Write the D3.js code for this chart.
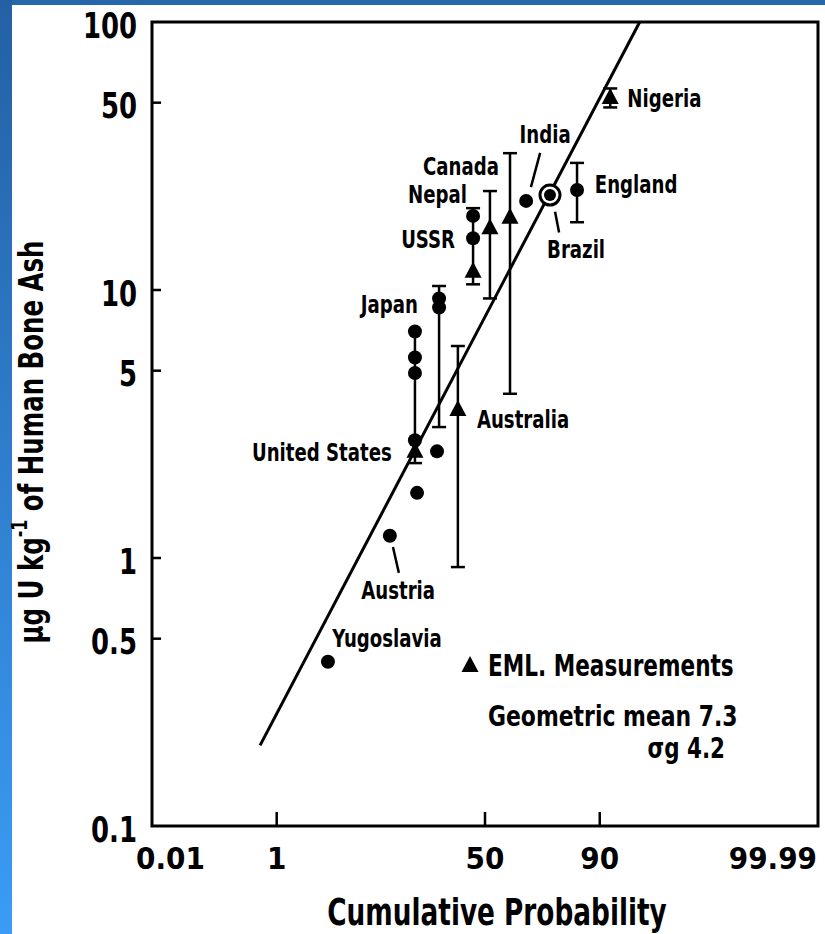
<!DOCTYPE html>
<html><head><meta charset="utf-8">
<script src="https://cdn.jsdelivr.net/npm/d3@7"></script>
<style>
body{margin:0;background:#fff}
svg{display:block}
text{font-family:"Liberation Sans Narrow","DejaVu Sans Condensed","Arial Narrow",sans-serif;fill:#000;font-weight:bold}
</style>
</head><body>
<svg id="chart" width="825" height="934"></svg>
<script>
// ---------- data ----------
const probTicks = [0.01, 1, 50, 90, 99.99];
const probTickLabels = ["0.01", "1", "50", "90", "99.99"];
const valueTicks = [100, 50, 10, 5, 1, 0.5, 0.1];
const valueTickLabels = ["100", "50", "10", "5", "1", "0.5", "0.1"];

// literature values (filled circles)
const literatureDots = [
  {country: "India", p: 67.7, v: 21.5},
  {country: "England", p: 84.8, v: 23.6},
  {country: "USSR", p: 44.7, v: 18.9},
  {country: "USSR", p: 44.7, v: 15.6},
  {country: "Japan", p: 30.4, v: 9.3},
  {country: "Japan", p: 30.4, v: 8.6},
  {country: "United States", p: 21.7, v: 7.0},
  {country: "United States", p: 21.7, v: 5.6},
  {country: "United States", p: 21.7, v: 4.9},
  {country: "United States", p: 21.7, v: 2.75},
  {country: "", p: 29.6, v: 2.5},
  {country: "", p: 22.4, v: 1.75},
  {country: "Austria", p: 14.4, v: 1.21},
  {country: "Yugoslavia", p: 3.97, v: 0.41}
];
const circledDots = [{country: "Brazil", p: 76.6, v: 22.6}];

// EML measurements (triangles)
const emlTriangles = [
  {country: "Nigeria", p: 91.9, v: 52},
  {country: "Canada", p: 61.0, v: 18.6},
  {country: "Nepal", p: 52.2, v: 17.0},
  {country: "USSR", p: 44.7, v: 11.7},
  {country: "United States", p: 21.7, v: 2.49},
  {country: "Australia", p: 38.1, v: 3.57}
];

// ranges (error bars)
const errorBars = [
  {country: "Nigeria", p: 91.9, lo: 48, hi: 56.5, capLo: true, capHi: true},
  {country: "England", p: 84.8, lo: 17.9, hi: 29.8, capLo: true, capHi: true},
  {country: "Canada", p: 61.0, lo: 4.1, hi: 32.4, capLo: true, capHi: true},
  {country: "Nepal", p: 52.2, lo: 9.3, hi: 23.4, capLo: true, capHi: true},
  {country: "USSR", p: 44.7, lo: 10.5, hi: 20.2, capLo: true, capHi: true},
  {country: "Japan", p: 30.4, lo: 3.08, hi: 10.35, capLo: true, capHi: true},
  {country: "United States", p: 21.7, lo: 2.26, hi: 7.0, capLo: true, capHi: false},
  {country: "Australia", p: 38.1, lo: 0.925, hi: 6.18, capLo: true, capHi: true}
];

// fitted log-normal line (geometric mean 7.3, sigma_g 4.2)
const fitLine = [{p: 0.6, v: 0.2}, {p: 95.8, v: 100}];

// country labels, anchored in data coordinates
const countryLabels = [
  {text: "Nigeria", p: 94.4, v: 51.6, anchor: "start"},
  {text: "India", p: 74.9, v: 37.9, anchor: "middle"},
  {text: "Canada", p: 56.2, v: 28.8, anchor: "end"},
  {text: "Nepal", p: 42.0, v: 22.6, anchor: "end"},
  {text: "USSR", p: 36.9, v: 15.4, anchor: "end"},
  {text: "England", p: 89.0, v: 24.7, anchor: "start"},
  {text: "Brazil", p: 75.6, v: 14.1, anchor: "start"},
  {text: "Japan", p: 22.7, v: 8.8, anchor: "end"},
  {text: "United States", p: 14.9, v: 2.47, anchor: "end"},
  {text: "Australia", p: 46.4, v: 3.27, anchor: "start"},
  {text: "Austria", p: 16.6, v: 0.753, anchor: "middle"},
  {text: "Yugoslavia", p: 13.7, v: 0.499, anchor: "middle"}
];
const leaderLines = [
  {country: "India", p1: 69.6, v1: 24.2, p2: 73.1, v2: 32.5},
  {country: "Brazil", p1: 78.3, v1: 19.6, p2: 79.6, v2: 16.4},
  {country: "Austria", p1: 15.2, v1: 1.10, p2: 16.8, v2: 0.88}
];
const legendLines = ["EML. Measurements", "Geometric mean 7.3", "\u03C3g 4.2"];
const xTitle = "Cumulative Probability";

// ---------- helpers ----------
function qnorm(p) { // Acklam inverse normal CDF
  const a = [-3.969683028665376e+01, 2.209460984245205e+02, -2.759285104469687e+02, 1.383577518672690e+02, -3.066479806614716e+01, 2.506628277459239e+00];
  const b = [-5.447609879822406e+01, 1.615858368580409e+02, -1.556989798598866e+02, 6.680131188771972e+01, -1.328068155288572e+01];
  const c = [-7.784894002430293e-03, -3.223964580411365e-01, -2.400758277161838e+00, -2.549732539343734e+00, 4.374664141464968e+00, 2.938163982698783e+00];
  const d = [7.784695709041462e-03, 3.224671290700398e-01, 2.445134137142996e+00, 3.754408661907416e+00];
  const pl = 0.02425, ph = 1 - pl;
  let q, r;
  if (p < pl) { q = Math.sqrt(-2 * Math.log(p));
    return (((((c[0]*q+c[1])*q+c[2])*q+c[3])*q+c[4])*q+c[5]) / ((((d[0]*q+d[1])*q+d[2])*q+d[3])*q+1); }
  if (p <= ph) { q = p - 0.5; r = q*q;
    return (((((a[0]*r+a[1])*r+a[2])*r+a[3])*r+a[4])*r+a[5])*q / (((((b[0]*r+b[1])*r+b[2])*r+b[3])*r+b[4])*r+1); }
  q = Math.sqrt(-2 * Math.log(1 - p));
  return -(((((c[0]*q+c[1])*q+c[2])*q+c[3])*q+c[4])*q+c[5]) / ((((d[0]*q+d[1])*q+d[2])*q+d[3])*q+1);
}
function squeeze(sel, f) {
  sel.each(function () {
    const w = this.getComputedTextLength();
    this.setAttribute("textLength", (w * f).toFixed(1));
    this.setAttribute("lengthAdjust", "spacingAndGlyphs");
  });
}

// ---------- layout ----------
const svg = d3.select("#chart");
const L = 152, R = 818, T = 22, B = 826;
const zScale = d3.scaleLinear().domain([qnorm(0.0001), qnorm(0.9999)]).range([L, R]);
const x = p => zScale(qnorm(p / 100));
const y = d3.scaleLog().domain([0.1, 100]).range([B, T]);

// blue frame
const defs = svg.append("defs");
const g1 = defs.append("linearGradient").attr("id", "sideGrad").attr("x1", 0).attr("y1", 0).attr("x2", 0).attr("y2", 1);
g1.append("stop").attr("offset", 0).attr("stop-color", "#2460a4");
g1.append("stop").attr("offset", 1).attr("stop-color", "#3a9cf6");
svg.append("rect").attr("x", 0).attr("y", 0).attr("width", 825).attr("height", 5).attr("fill", "#2667aa");
svg.append("rect").attr("x", 0).attr("y", 0).attr("width", 12).attr("height", 934).attr("fill", "url(#sideGrad)");

// plot box
svg.append("rect").attr("x", L).attr("y", T).attr("width", R - L).attr("height", B - T)
  .attr("fill", "none").attr("stroke", "#000").attr("stroke-width", 3);

// y ticks & labels
svg.selectAll(".ytick").data(valueTicks.filter(v => v !== 100 && v !== 0.1)).join("line")
  .attr("x1", L).attr("x2", L + 9).attr("y1", d => y(d)).attr("y2", d => y(d))
  .attr("stroke", "#000").attr("stroke-width", 2.5);
svg.selectAll(".ylab").data(valueTicks).join("text")
  .attr("x", 137).attr("y", d => y(d) + 3)
  .attr("text-anchor", "end").attr("dominant-baseline", "central")
  .attr("font-size", 36).text((d, i) => valueTickLabels[i])
  .call(squeeze, 0.8);

// x ticks & labels
svg.selectAll(".xtick").data(probTicks.filter(p => p > 0.01 && p < 99.99)).join("line")
  .attr("x1", d => x(d)).attr("x2", d => x(d)).attr("y1", B).attr("y2", B - 14)
  .attr("stroke", "#000").attr("stroke-width", 2.5);
svg.selectAll(".xlab").data(probTicks).join("text")
  .attr("x", (d, i) => i === 0 ? x(d) - 16 : (i === probTicks.length - 1 ? x(d) - 1 : x(d)))
  .attr("y", 858).attr("dominant-baseline", "central")
  .attr("text-anchor", (d, i) => i === 0 ? "start" : (i === probTicks.length - 1 ? "end" : "middle"))
  .attr("font-size", 31).text((d, i) => probTickLabels[i]);

// axis titles
svg.append("text").attr("x", (L + R) / 2 + 12).attr("y", 912).attr("text-anchor", "middle")
  .attr("dominant-baseline", "central").attr("font-size", 38).text(xTitle)
  .call(squeeze, 0.77);
const yt = svg.append("text").attr("transform", "translate(31,442) rotate(-90) scale(0.8,1)")
  .attr("text-anchor", "middle").attr("dominant-baseline", "central").attr("font-size", 34);
yt.append("tspan").text("\u03BCg U kg");
yt.append("tspan").attr("dy", -12).attr("font-size", 22).text("-1");
yt.append("tspan").attr("dy", 12).text(" of Human Bone Ash");

// fitted line
svg.append("line")
  .attr("x1", x(fitLine[0].p)).attr("y1", y(fitLine[0].v))
  .attr("x2", x(fitLine[1].p)).attr("y2", y(fitLine[1].v))
  .attr("stroke", "#000").attr("stroke-width", 3);

// error bars
const eb = svg.append("g").attr("stroke", "#000").attr("stroke-width", 2.5);
eb.selectAll(".bar").data(errorBars).join("line")
  .attr("x1", d => x(d.p)).attr("x2", d => x(d.p)).attr("y1", d => y(d.lo)).attr("y2", d => y(d.hi));
eb.selectAll(".capLo").data(errorBars.filter(d => d.capLo)).join("line")
  .attr("x1", d => x(d.p) - 7).attr("x2", d => x(d.p) + 7).attr("y1", d => y(d.lo)).attr("y2", d => y(d.lo));
eb.selectAll(".capHi").data(errorBars.filter(d => d.capHi)).join("line")
  .attr("x1", d => x(d.p) - 7).attr("x2", d => x(d.p) + 7).attr("y1", d => y(d.hi)).attr("y2", d => y(d.hi));

// leader lines
svg.selectAll(".leader").data(leaderLines).join("line")
  .attr("x1", d => x(d.p1)).attr("y1", d => y(d.v1)).attr("x2", d => x(d.p2)).attr("y2", d => y(d.v2))
  .attr("stroke", "#000").attr("stroke-width", 2.5);

// dots
svg.selectAll(".dot").data(literatureDots).join("circle")
  .attr("cx", d => x(d.p)).attr("cy", d => y(d.v)).attr("r", 7).attr("fill", "#000");
const cd = svg.selectAll(".cdot").data(circledDots).join("g");
cd.append("circle").attr("cx", d => x(d.p)).attr("cy", d => y(d.v)).attr("r", 10)
  .attr("fill", "#fff").attr("stroke", "#000").attr("stroke-width", 3);
cd.append("circle").attr("cx", d => x(d.p)).attr("cy", d => y(d.v)).attr("r", 6).attr("fill", "#000");

// triangles
const tri = "M0,-10L8.5,6L-8.5,6Z";
svg.selectAll(".tri").data(emlTriangles).join("path")
  .attr("d", tri).attr("transform", d => `translate(${x(d.p)},${y(d.v)})`).attr("fill", "#000");

// country labels
svg.selectAll(".clab").data(countryLabels).join("text")
  .attr("x", d => x(d.p)).attr("y", d => y(d.v)).attr("text-anchor", d => d.anchor)
  .attr("dominant-baseline", "central").attr("font-size", 24).text(d => d.text)
  .call(squeeze, 0.84);

// legend / annotation
svg.append("path").attr("d", tri).attr("transform", "translate(470,666)").attr("fill", "#000");
svg.append("text").attr("x", 488).attr("y", 665).attr("dominant-baseline", "central")
  .attr("font-size", 30).text(legendLines[0]).call(squeeze, 0.8);
svg.append("text").attr("x", 488).attr("y", 716).attr("dominant-baseline", "central")
  .attr("font-size", 28).text(legendLines[1]).call(squeeze, 0.87);
svg.append("text").attr("x", 725).attr("y", 748).attr("text-anchor", "end").attr("dominant-baseline", "central")
  .attr("font-size", 28).text(legendLines[2]).call(squeeze, 0.85);
</script>
</body></html>
